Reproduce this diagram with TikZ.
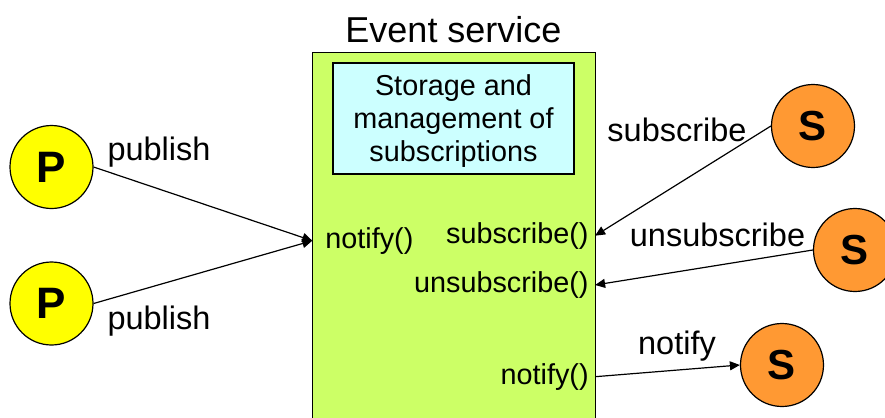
\documentclass[tikz,border=0pt]{standalone}
\usepackage{fontspec}
\setmainfont{Liberation Sans}
\usetikzlibrary{arrows.meta}
\definecolor{pubyellow}{HTML}{FFFF00}
\definecolor{suborange}{HTML}{FF9933}
\definecolor{svcgreen}{HTML}{CCFF66}
\definecolor{storecyan}{HTML}{CCFFFF}
\tikzset{
  party/.style={circle, draw, line width=0.6pt, minimum size=41.5pt, inner sep=0pt, font=\fontsize{22}{22}\selectfont\bfseries},
  pub/.style={party, fill=pubyellow},
  sub/.style={party, fill=suborange, font=\fontsize{21}{21}\selectfont\bfseries},
  msg/.style={inner sep=0pt, font=\fontsize{16.25}{18}\selectfont},
  method/.style={inner sep=0pt, font=\fontsize{14.4}{16}\selectfont},
  call/.style={-{Triangle[length=5pt,width=4.5pt]}, line width=0.6pt}
}
\begin{document}
\begin{tikzpicture}[x=0.5pt, y=-0.5pt]
\useasboundingbox (0,0) rectangle (885,418);
\node (svc) [fill=svcgreen, anchor=north west, minimum width=141pt, minimum height=183pt, inner sep=0pt] at (312.3,52.3) {};
\draw [line width=0.6pt] (svc.south west) -- (svc.north west) -- (svc.north east) -- (svc.south east);
\node (title) [inner sep=0pt, font=\fontsize{18}{20}\selectfont] at (453.5,29.5) {Event service};
\node (store) [draw, line width=0.6pt, fill=storecyan, minimum width=120.5pt, minimum height=55.5pt, inner sep=0pt] at (453.5,118.5) {};
\node (storeText) [align=center, inner sep=0pt, font=\fontsize{14.4}{16.3}\selectfont] at (453.5,121) {Storage and\\management of\\subscriptions};
\node (notifyIn) [method, anchor=west] at (325,240.7) {notify()};
\node (subIn) [method, anchor=east] at (589,235.7) {subscribe()};
\node (unsubIn) [method, anchor=east] at (589,285) {unsubscribe()};
\node (notifyOut) [method, anchor=east] at (589,376.7) {notify()};
\node (pubA) [pub] at (51.5,167) {P};
\node (pubB) [pub] at (51.5,303.5) {P};
\node (subA) [sub] at (813,126) {S};
\node (subB) [sub] at (855,250) {S};
\node (subC) [sub] at (782,365) {S};
\node (pubMsgA) [msg] at (159,152) {publish};
\node (pubMsgB) [msg] at (159,321) {publish};
\node (subMsg) [msg] at (677,130) {subscribe};
\node (unsubMsg) [msg] at (717.5,235) {unsubscribe};
\node (notifyMsg) [msg] at (677,346) {notify};
\draw [call] (pubA.east) -- (svc.west |- notifyIn.west);
\draw [call] (pubB.east) -- (svc.west |- notifyIn.west);
\draw [call] (subA.west) -- (svc.east |- subIn.east);
\draw [call] (subB.west) -- (svc.east |- unsubIn.east);
\draw [call] (svc.east |- notifyOut.east) -- (subC.west);
\end{tikzpicture}
\end{document}
